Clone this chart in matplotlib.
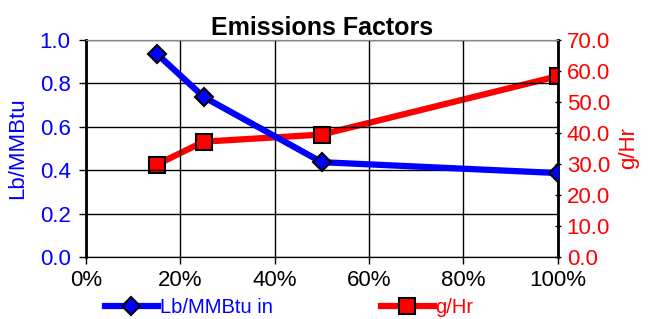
import matplotlib.pyplot as plt
from matplotlib.ticker import PercentFormatter, FormatStrFormatter

plt.rcParams['font.family'] = ['Liberation Sans', 'DejaVu Sans']

load = [0.15, 0.25, 0.50, 1.00]
lb_mmbtu = [0.937, 0.737, 0.437, 0.387]
g_hr = [29.8, 37.2, 39.5, 58.3]

fig = plt.figure(figsize=(6.5, 3.19), dpi=100)
ax = fig.add_axes([0.132, 0.194, 0.726, 0.681])
ax2 = ax.twinx()

l1, = ax.plot(load, lb_mmbtu, color='#0000ff', lw=4.5, marker='D', ms=9,
              mfc='#0000ff', mec='black', mew=1.5, label='Lb/MMBtu in', zorder=5)
l2, = ax2.plot(load, g_hr, color='#ff0000', lw=4.5, marker='s', ms=11,
               mfc='#ff0000', mec='black', mew=1.5, label='g/Hr', zorder=5)
ax.set_zorder(ax2.get_zorder() + 1)
ax.patch.set_visible(False)

ax.set_xlim(0, 1)
ax.set_ylim(0, 1.0)
ax2.set_ylim(0, 70)
ax.set_xticks([0, 0.2, 0.4, 0.6, 0.8, 1.0])
ax.set_yticks([0, 0.2, 0.4, 0.6, 0.8, 1.0])
ax2.set_yticks(range(0, 71, 10))
ax.xaxis.set_major_formatter(PercentFormatter(1.0, decimals=0))
ax.yaxis.set_major_formatter(FormatStrFormatter('%.1f'))
ax2.yaxis.set_major_formatter(FormatStrFormatter('%.1f'))

ax.grid(True, color='black', lw=1)
ax.tick_params(axis='y', colors='#0000ff', labelsize=16, length=5, width=1, pad=6)
ax.tick_params(axis='x', labelsize=16, length=5, width=1, pad=4)
ax2.tick_params(axis='y', colors='#ff0000', labelsize=16, length=5, width=1,
                direction='inout', pad=4)
for a in (ax, ax2):
    for s in a.spines.values():
        s.set_color('black')
ax.spines['left'].set_linewidth(2)
ax2.spines['right'].set_linewidth(2)
ax.spines['top'].set_color('#888888')
ax2.spines['top'].set_color('#888888')
ax.tick_params(axis='y', color='black')
ax2.tick_params(axis='y', color='black')

ax.set_ylabel('Lb/MMBtu', color='#0000ff', fontsize=16, labelpad=8)
ax2.set_ylabel('g/Hr', color='#ff0000', fontsize=16, labelpad=6)
ax.set_title('Emissions Factors', fontsize=18, fontweight='bold', pad=2)

fig.legend([l1, l2], ['Lb/MMBtu in', 'g/Hr'], loc='lower left',
           bbox_to_anchor=(0.134, -0.05), ncol=2, frameon=False, fontsize=14.5,
           columnspacing=5.4, handlelength=2.6, handletextpad=0.1,
           labelcolor='linecolor')

fig.savefig('out.png', dpi=100)
